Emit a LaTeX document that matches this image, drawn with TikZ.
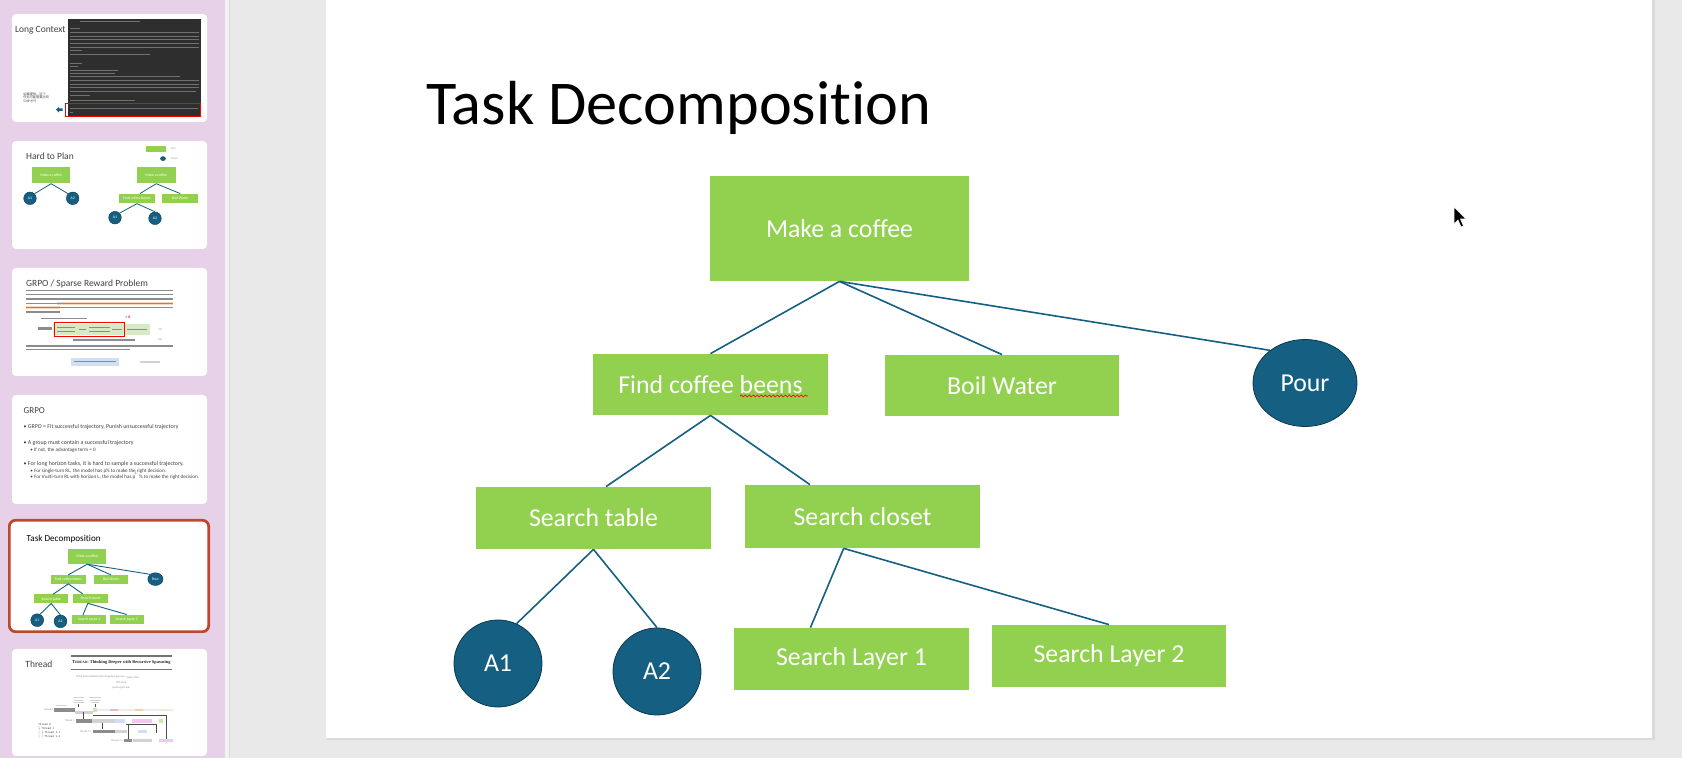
\documentclass[tikz,border=0pt]{standalone}
\usepackage{fontspec}
\setmainfont{Carlito}[Ligatures=NoCommon]
\newfontfamily\cjk{Noto Sans CJK SC}
\newfontfamily\serifb{Liberation Serif}
\newfontfamily\dmono{DejaVu Sans Mono}
\usetikzlibrary{shapes.geometric,calc,decorations.pathmorphing}
\definecolor{pinkbar}{RGB}{230,209,232}
\definecolor{appgray}{RGB}{233,233,233}
\definecolor{stripc}{RGB}{242,242,242}
\definecolor{linec}{RGB}{216,216,216}
\definecolor{shadowc}{RGB}{218,218,218}
\definecolor{tgreen}{RGB}{146,208,80}
\definecolor{tblue}{RGB}{21,96,130}
\definecolor{tblueedge}{RGB}{12,56,78}
\definecolor{selred}{RGB}{188,72,46}
\definecolor{termbg}{RGB}{46,46,46}
\definecolor{termtxt}{RGB}{112,112,112}
\definecolor{ptext}{RGB}{140,140,140}
\definecolor{thtitle}{RGB}{64,64,64}
\definecolor{hlorange}{RGB}{249,214,186}
\definecolor{eqgreen}{RGB}{214,234,198}
\definecolor{eqblue}{RGB}{205,224,244}
\definecolor{bdark}{RGB}{140,140,140}
\definecolor{blight}{RGB}{210,210,210}
\definecolor{blighter}{RGB}{236,236,236}
\definecolor{bgreen}{RGB}{200,232,176}
\definecolor{bpink}{RGB}{244,184,184}
\definecolor{borange}{RGB}{245,208,168}
\definecolor{byellow}{RGB}{251,231,176}
\definecolor{bblue}{RGB}{207,224,245}
\definecolor{bmag}{RGB}{245,198,238}
\tikzset{
  gbox/.style={rectangle, fill=tgreen, text=white, inner sep=0pt, font=\fontsize{12.9}{15}\selectfont},
  act/.style={ellipse, fill=tblue, draw=tblueedge, line width=0.4pt, text=white, inner sep=0pt, font=\fontsize{12.9}{15}\selectfont},
  link/.style={draw=tblue, line width=0.8pt},
  thumb/.style={fill=white, rounded corners=2pt},
  thtitlestyle/.style={anchor=base west, inner sep=0pt, text=thtitle, font=\fontsize{4.75}{5.5}\selectfont},
  tbox/.style={rectangle, fill=tgreen, text=white, inner sep=0pt, font=\fontsize{1.9}{2.2}\selectfont},
  tact/.style={circle, fill=tblue, draw=tblueedge, line width=0.2pt, text=white, inner sep=0pt, minimum size=6.3pt, font=\fontsize{1.9}{2.2}\selectfont},
  tlink/.style={draw=tblue, line width=0.4pt},
  bullet/.style={anchor=base west, inner sep=0pt, text=thtitle, font=\fontsize{2.95}{3.2}\selectfont},
  subbullet/.style={anchor=base west, inner sep=0pt, text=thtitle, font=\fontsize{2.55}{2.8}\selectfont},
  tiny/.style={inner sep=0pt, text=ptext, font=\fontsize{1.3}{1.5}\selectfont},
  thl/.style={draw=black!70, line width=0.25pt},
}
\newcommand\slidebody{%
  \node[anchor=base west, inner sep=0pt, text=black, font=\fontsize{31.15}{36}\selectfont] (title) at (100,124.5) {Task Decomposition};
  \node[gbox, minimum width=129.5pt, minimum height=52.5pt] (mc) at (513.5,228.5) {Make a coffee};
  \node[gbox, minimum width=117.5pt, minimum height=30.5pt] (fcb) at (384.5,384.5) {Find coffee beens};
  \node[gbox, minimum width=117pt, minimum height=30.5pt] (bw) at (676,385.5) {Boil Water};
  \node[act, minimum width=52pt, minimum height=43.5pt] (pour) at (979,383) {Pour};
  \node[gbox, minimum width=117.5pt, minimum height=31pt] (st) at (267.5,518) {Search table};
  \node[gbox, minimum width=117.5pt, minimum height=31.5pt] (sc) at (536.5,516.5) {Search closet};
  \node[act, minimum width=44pt, minimum height=43.5pt] (a1) at (172,663.5) {A1};
  \node[act, minimum width=44pt, minimum height=43.5pt] (a2) at (331,671.5) {A2};
  \node[gbox, minimum width=117.5pt, minimum height=31pt] (sl1) at (525.5,659) {Search Layer 1};
  \node[gbox, minimum width=117pt, minimum height=31pt] (sl2) at (783,656) {Search Layer 2};
  \draw[link] (mc.south) -- (fcb.north);
  \draw[link] (mc.south) -- (bw.north);
  \draw[link] (mc.south) -- (pour.137);
  \draw[link] (fcb.south) -- ($(st.north west)!0.553!(st.north east)$);
  \draw[link] (fcb.south) -- ($(sc.north west)!0.277!(sc.north east)$);
  \draw[link] (st.south) -- (a1.65);
  \draw[link] (st.south) -- (a2.north);
  \draw[link] ($(sc.south west)!0.42!(sc.south east)$) -- ($(sl1.north west)!0.326!(sl1.north east)$);
  \draw[link] ($(sc.south west)!0.42!(sc.south east)$) -- (sl2.north);
}
\begin{document}
\begin{tikzpicture}[x=0.5pt,y=-0.5pt]
\useasboundingbox (0,0) rectangle (1682,758);
% application background
\fill[appgray] (0,0) rectangle (1682,758);
\fill[pinkbar] (0,0) rectangle (225,758);
\fill[stripc] (225,0) rectangle (228.5,758);
\fill[linec] (228.5,0) rectangle (229.5,758);
\fill[shadowc] (327,0) rectangle (1654.5,740.5);
\fill[white] (326,0) rectangle (1652,738);

% ---------- main slide ----------
\begin{scope}[shift={(326,0)}]
  \slidebody
  \draw[red, line width=0.35pt, decorate, decoration={snake, amplitude=0.5pt, segment length=2pt}] (414,396) -- (482,396);
  \fill[black, draw=white, line width=0.3pt] (1128,207) -- ++(0,17) -- ++(4,-4) -- ++(3,7) -- ++(2.5,-1) -- ++(-3,-7) -- ++(5.5,0) -- cycle;
\end{scope}

% ---------- thumbnail 1: Long Context ----------
\path[thumb] (12,14) rectangle (207,122);
\node[thtitlestyle] (t1title) at (14.7,32.7) {Long Context};
\fill[termbg] (68,19.3) rectangle (200.7,117);
\foreach \y/\a/\b in {21.7/80/140, 28.5/70/80, 32.3/70/199, 36/70/199, 39.7/70/199, 43.3/70/199, 47/70/199, 50.7/70/82, 54/70/150, 63.3/70/82, 66.7/70/78, 70/70/118, 73.3/70/115, 76.7/70/180, 80.3/70/199, 84/70/199, 87.7/70/199, 91.3/70/196, 95/70/90, 100.5/70/135, 108.5/70/198, 112/70/73}
  {\fill[termtxt] (\a,{\y-0.45}) rectangle (\b,{\y+0.45});}
\draw[red, line width=0.5pt] (65.7,104) rectangle (200.7,116.7);
\node[anchor=base west, inner sep=0pt, text=thtitle, font=\cjk\fontsize{1.6}{1.8}\selectfont, align=left] (t1cn) at (23,102.5) {如果提供，这个\\任务可能需要比较\\50步才行};
\fill[tblue] (56,109.7) -- (59,106.9) -- (59,108.4) -- (62.5,108.4) -- (62.5,111) -- (59,111) -- (59,112.5) -- cycle;

% ---------- thumbnail 2: Hard to Plan ----------
\path[thumb] (12,141) rectangle (207,249);
\node[thtitlestyle] (t2title) at (25.7,160) {Hard to Plan};
\fill[tgreen] (146,145.7) rectangle (166,151.7);
\node[tiny, anchor=west] (lgplan) at (170.7,148.5) {Plan};
\fill[tblue] (163,158.6) ellipse [x radius=2.9, y radius=2.4];
\node[tiny, anchor=west] (lgact) at (170.7,158.6) {Action};
\node[tbox, minimum width=19.15pt, minimum height=8pt] (hmc) at (51.15,175.3) {Make a coffee};
\node[tact] (ha1) at (30,198.3) {A1};
\node[tact] (ha2) at (72.7,198.3) {A2};
\draw[tlink] (hmc.south) -- (ha1.45);
\draw[tlink] (hmc.south) -- (ha2.135);
\node[tbox, minimum width=19.5pt, minimum height=8pt] (hmc2) at (156.2,175.3) {Make a coffee};
\node[tbox, minimum width=18pt, minimum height=4.65pt] (hfcb) at (137,198.65) {Find coffee beens};
\node[tbox, minimum width=18pt, minimum height=4.65pt] (hbw) at (180.3,198.65) {Boil Water};
\node[tact] (hb1) at (115,217.7) {A1};
\node[tact] (hb2) at (155,218.3) {A2};
\draw[tlink] (hmc2.south) -- ($(hfcb.north west)!0.58!(hfcb.north east)$);
\draw[tlink] (hmc2.south) -- ($(hbw.north west)!0.5!(hbw.north east)$);
\draw[tlink] (hfcb.south) -- (hb1.45);
\draw[tlink] (hfcb.south) -- (hb2.north);

% ---------- thumbnail 3: GRPO / Sparse Reward Problem ----------
\path[thumb] (12,268) rectangle (207,376);
\node[thtitlestyle] (t3title) at (25.7,286.7) {GRPO / Sparse Reward Problem};
\fill[hlorange] (56.7,301.8) rectangle (173.3,305.1);
\fill[hlorange] (25.7,306.1) rectangle (60,309.4);
\foreach \y/\e in {290.5/173.3, 294.8/173.3, 299.1/173.3, 303.4/173.3, 307.7/173.3, 312/60}
  {\fill[ptext] (25.7,{\y-0.6}) rectangle (\e,{\y+0.6});}
\fill[ptext] (41,317.9) rectangle (86.7,319.1);
\fill[eqgreen] (53.3,324) rectangle (150,335);
\fill[ptext] (38,327.5) rectangle (52,330.5);
\foreach \a/\b/\y in {57/75/327, 57/75/331.5, 79/86/329.3, 89/110/327, 89/110/331.5, 112/122/329.3, 127/147/329.3}
  {\fill[ptext] (\a,\y) rectangle (\b,{\y+1});}
\draw[red, line width=0.35pt] (54.3,322.3) rectangle (124,336);
\node[text=red, inner sep=0pt, font=\bfseries\fontsize{1.9}{2}\selectfont] (eqzero) at (128,317.7) {= 0};
\node[tiny] (eq19) at (160,329.5) {(19)};
\node[tiny] (eq20) at (160,340) {(20)};
\fill[ptext] (72.7,339.4) rectangle (135,340.6);
\fill[ptext] (25.7,345.5) rectangle (173.3,346.9);
\fill[ptext] (25.7,348.8) rectangle (130,350.2);
\fill[eqblue] (71,358.3) rectangle (119.3,365.7);
\fill[ptext] (74,361.4) rectangle (116,362.4);
\fill[blight] (140,361.4) rectangle (160,362.6);

% ---------- thumbnail 4: GRPO ----------
\path[thumb] (12,395) rectangle (207,504);
\node[thtitlestyle, font=\fontsize{4.5}{5}\selectfont] (t4title) at (23.3,413.3) {GRPO};
\node[bullet] (b1) at (23.3,429) {• GRPO = Fit successful trajectory, Punish unsuccessful trajectory};
\node[bullet] (b2) at (23.3,445) {• A group must contain a successful trajectory};
\node[subbullet] (b21) at (30,452) {• If not, the advantage term = 0};
\node[bullet] (b3) at (23.3,465.5) {• For long horizon tasks, it is hard to sample a successful trajectory.};
\node[subbullet] (b31) at (30,472.2) {• For single-turn RL, the model has p\% to make the right decision.};
\node[subbullet] (b32) at (30,479) {• For multi-turn RL with horizon L, the model has p\textsuperscript{L} \% to make the right decision.};

% ---------- thumbnail 5: Task Decomposition (selected) ----------
\path[fill=white, draw=selred, line width=1.35pt, rounded corners=3pt] (9.35,520.35) rectangle (208.65,631.65);
\begin{scope}[shift={(12,523)}, scale=0.1465, transform shape, name prefix=th-,
  link/.style={draw=tblue, line width=0.45pt},
  act/.style={ellipse, fill=tblue, draw=tblueedge, line width=0.2pt, text=white, inner sep=0pt, font=\fontsize{12.9}{15}\selectfont}]
  \slidebody
\end{scope}

% ---------- thumbnail 6: Thread ----------
\path[thumb] (12,649) rectangle (207,756);
\node[thtitlestyle] (t6title) at (25,667.7) {Thread};
\fill[black!55] (71,655) rectangle (171.7,656.6);
\fill[black!55] (71,668.6) rectangle (171.7,669.4);
\node[inner sep=0pt, text=black!85, font=\serifb\bfseries\fontsize{2.2}{2.5}\selectfont] (pt) at (121.3,662.3) {T{\fontsize{1.7}{2}\selectfont HREAD}: Thinking Deeper with Recursive Spawning};
\node[tiny] (au1) at (85,677.3) {Philip Schroeder};
\node[tiny] (au2) at (102.3,677.3) {Nathaniel Morgan};
\node[tiny] (au3) at (118.3,677.3) {Hongyin Luo};
\node[tiny] (au4) at (133,677.3) {James Glass};
\node[tiny] (aff) at (121.3,682.7) {MIT CSAIL};
\node[tiny] (mail) at (121.3,687.7) {pschro@mit.edu};
\foreach \a/\b/\y in {73/84/697.5, 74/83/700, 73/84/702.5, 89/101/697.5, 90/100/700, 91/99/702.5, 56/67/705.5}
  {\fill[blight] (\a,\y) rectangle (\b,{\y+0.8});}
\draw[thl] (78.3,704) -- (78.3,707.5);
\draw[thl] (95,704) -- (95,707.5);
% Thread 0
\node[tiny, anchor=east] (r0) at (53.5,710) {Thread 0};
\fill[blighter] (97,708.6) rectangle (173.3,711.4);
\fill[bdark] (54.3,708.3) rectangle (75,711.7);
\fill[blight] (75,711) rectangle (93.3,714);
\fill[bgreen] (93.3,708.3) rectangle (97,711.7);
\fill[bpink] (110,708.6) rectangle (118.3,711.4);
\fill[borange] (135,708.6) rectangle (142.7,711.4);
\fill[byellow] (163.3,708.6) rectangle (166.7,711.4);
% Thread 1
\node[tiny, anchor=east] (r1) at (74.5,721) {Thread 1};
\fill[bdark] (75.7,719.3) rectangle (91.7,722.7);
\fill[blight] (91.7,719.3) rectangle (115,722.7);
\fill[bblue] (115,719.3) rectangle (125,722.7);
\fill[bmag] (131.7,719.3) rectangle (151.7,722.7);
\fill[bgreen] (159,719.3) rectangle (163.3,722.7);
% Thread 1.1
\node[tiny, anchor=east] (r11) at (91.5,731.3) {Thread 1.1};
\fill[bdark] (92.7,729.6) rectangle (115,733);
\fill[blight] (115,729.6) rectangle (126.7,733);
\fill[bblue] (138.3,729.6) rectangle (146.7,733);
% Thread 1.2
\node[tiny, anchor=east] (r12) at (123,740.7) {Thread 1.2};
\fill[bdark] (124,739) rectangle (131.7,742.4);
\fill[blight] (133.3,739) rectangle (151.7,742.4);
\fill[bmag] (159.3,739) rectangle (172.7,742.4);
\draw[thl] (83,712) -- (83,719);
\draw[thl] (102,723) -- (102,729.5);
\draw[thl] (93.3,715.3) -| (166.7,739);
\draw[thl] (126,724.5) -| (156,733);
\draw[thl] (128.3,724.5) -- (128.3,739);
\node[anchor=north west, inner sep=0pt, text=black!75, font=\dmono\fontsize{1.3}{1.9}\selectfont, align=left] (tree) at (38,723.3) {Thread 0\\├ Thread 1\\│ ├ Thread 1.1\\│ └ Thread 1.2};
\end{tikzpicture}
\end{document}
